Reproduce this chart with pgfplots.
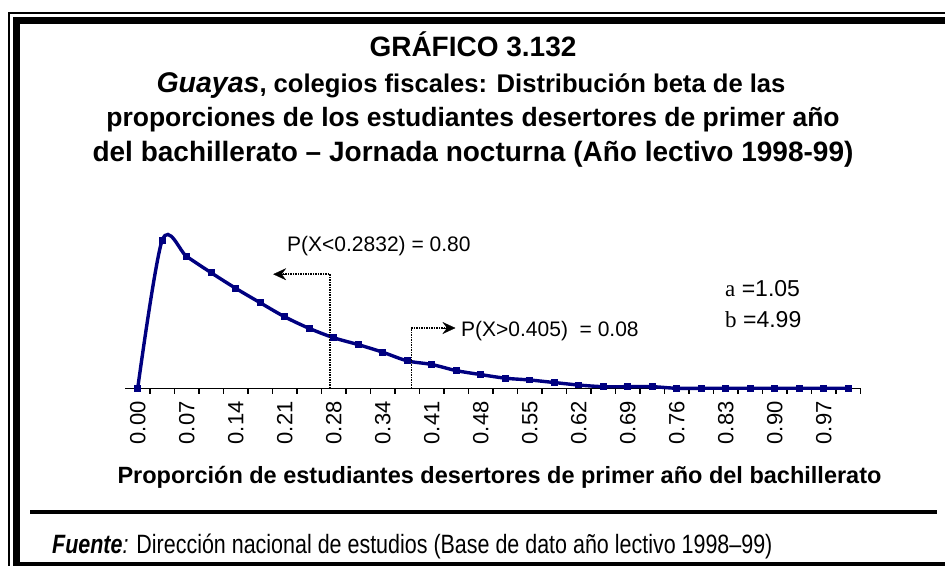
\documentclass[border=0pt]{standalone}
\usepackage{fontspec}
\setmainfont{Liberation Sans}
\newfontfamily\seriffont{Liberation Serif}
\newfontfamily\narrowfont[FakeStretch=0.81]{Liberation Sans}
\usepackage{pgfplots}
\pgfplotsset{compat=1.18}
\usetikzlibrary{arrows.meta}
\definecolor{navyc}{RGB}{0,0,128}
\newcommand{\fs}[1]{\fontsize{#1}{#1}\selectfont}

\begin{document}
\begin{tikzpicture}[x=1pt,y=1pt]
\begin{scope}
\clip (0pt,0pt) rectangle (945pt,565pt);
% frames
\draw[line width=1.3pt] (9pt,-30pt) rectangle (990pt,552pt);
\draw[line width=7pt] (16.5pt,-0.5pt) rectangle (1000pt,544.5pt);

\begin{axis}[
  at={(125.45pt,176.7pt)}, anchor=south west, scale only axis,
  width=735pt, height=160pt,
  xmin=-0.5, xmax=29.5, ymin=0, ymax=4.432,
  axis x line=bottom, axis y line=none,
  axis line style={-},
  x axis line style={-, line width=1.3pt, black},
  xtick={0,2,...,28},
  xticklabels={0.00,0.07,0.14,0.21,0.28,0.34,0.41,0.48,0.55,0.62,0.69,0.76,0.83,0.90,0.97},
  major tick length=0pt,
  minor xtick={0.5,1.5,...,29.5},
  minor tick length=5.5pt, tick align=outside,
  every tick/.style={black, line width=1.3pt},
  xticklabel style={rotate=90, anchor=east, font=\fs{22}, inner sep=0pt},
  xticklabel shift=13pt,
  clip=false,
]
\addplot[navyc, line width=3.4pt, smooth, mark=square*, mark size=1.7pt, mark options={solid}] coordinates {
(0,0) (1,4.10) (2,3.65) (3,3.20) (4,2.77) (5,2.37) (6,1.98) (7,1.66) (8,1.40) (9,1.21)
(10,1.00) (11,0.76) (12,0.66) (13,0.49) (14,0.38) (15,0.28) (16,0.23) (17,0.16) (18,0.09) (19,0.045)
(20,0.045) (21,0.045) (22,0) (23,0) (24,0) (25,0) (26,0) (27,0) (28,0) (29,0)
};
% annotation lines
\draw[densely dotted, line width=1.5pt] (axis cs:7.85,0) -- (axis cs:7.85,3.16) -- (axis cs:5.8,3.16);
\draw[-{Stealth[length=13pt,width=12pt,inset=4.5pt]}, line width=0.3pt] (axis cs:6.1,3.16) -- (axis cs:5.53,3.16);
\draw[densely dotted, line width=1.5pt] (axis cs:11.18,0) -- (axis cs:11.18,1.67) -- (axis cs:12.7,1.67);
\draw[-{Stealth[length=13pt,width=12pt,inset=4.5pt]}, line width=0.3pt] (axis cs:12.4,1.67) -- (axis cs:12.97,1.67);
\end{axis}

% annotation texts
\node[anchor=base west, inner sep=0pt, font=\fs{21}] at (287pt,313.3pt) {P(X<0.2832) = 0.80};
\node[anchor=base west, inner sep=0pt, font=\fs{21}] at (461pt,228.3pt) {P(X>0.405)\ \ = 0.08};
\node[anchor=base west, inner sep=0pt, font=\fs{23}] at (725pt,268pt) {{\seriffont a} =1.05};
\node[anchor=base west, inner sep=0pt, font=\fs{23}] at (725pt,237pt) {{\seriffont b} =4.99};

% title
\node[anchor=base, inner sep=0pt, font=\fs{28}\bfseries] at (473pt,508pt) {GRÁFICO 3.132};
\node[anchor=base, inner sep=0pt, font=\fs{25.6}\bfseries] at (471pt,472pt) {{\fs{28.5}\itshape Guayas}, colegios fiscales: Distribución beta de las};
\node[anchor=base, inner sep=0pt, font=\fs{26.5}\bfseries] at (473pt,438pt) {proporciones de los estudiantes desertores de primer año};
\node[anchor=base, inner sep=0pt, font=\fs{28}\bfseries] at (473pt,403pt) {del bachillerato – Jornada nocturna (Año lectivo 1998-99)};

% x label
\node[anchor=base, inner sep=0pt, font=\fs{23.5}\bfseries] at (499.5pt,81pt) {Proporción de estudiantes desertores de primer año del bachillerato};

% separator
\draw[line width=3.5pt] (30pt,53pt) -- (937pt,53pt);

% source
\node[anchor=base west, inner sep=0pt, font=\narrowfont\fs{26.5}] at (52pt,12pt) {{\bfseries\itshape Fuente}\textit{:} Dirección nacional de estudios (Base de dato año lectivo 1998–99)};
\end{scope}
\pgfresetboundingbox
\path[use as bounding box] (0pt,0pt) rectangle (945pt,565pt);
\end{tikzpicture}
\end{document}
